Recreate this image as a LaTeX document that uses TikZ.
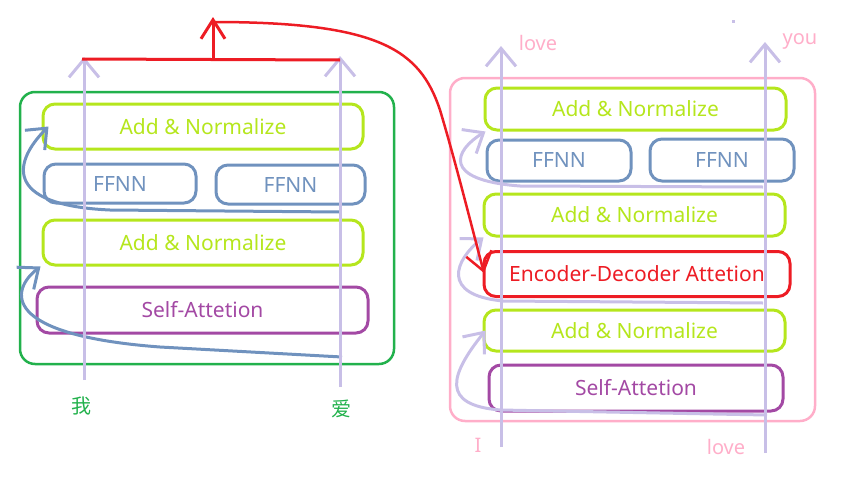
\documentclass[tikz,border=0pt]{standalone}
\usepackage{fontspec}
\setmainfont{Noto Sans}
\newfontfamily\cjk{Noto Sans CJK SC}
\usetikzlibrary{arrows.meta}
\definecolor{encgreen}{HTML}{22B14C}
\definecolor{limeg}{HTML}{B5E61D}
\definecolor{steel}{HTML}{7092BE}
\definecolor{violet}{HTML}{A349A4}
\definecolor{redl}{HTML}{ED1C24}
\definecolor{lav}{HTML}{C8BFE7}
\definecolor{pinkl}{HTML}{FFAEC9}

\begin{document}
\begin{tikzpicture}[x=1pt,y=-1pt,
    frame/.style={draw,rounded corners=15pt,line width=2.5pt,inner sep=0pt},
    layer/.style={draw,rounded corners=12pt,line width=3pt,inner sep=0pt,font=\fontsize{21}{24}\selectfont},
    norm/.style={layer,color=limeg},
    ffnn/.style={layer,color=steel},
    selfatt/.style={layer,color=violet},
    word/.style={font=\fontsize{20}{24}\selectfont,inner sep=0pt},
    flow/.style={draw=lav,line width=3pt,-{Straight Barb[length=18pt,width=30pt]}},
    res/.style={line width=3pt,-{Straight Barb[length=17pt,width=28pt]}}]
    \useasboundingbox (0,0) rectangle (845,479);

    % encoder
    \node[frame,draw=encgreen,minimum width=374pt,minimum height=272pt] (enc) at (207,228) {};
    \node[norm,minimum width=320pt,minimum height=45pt] (lan2) at (203,126.5) {Add \& Normalize};
    \node[ffnn,minimum width=152pt,minimum height=39pt] (lffa) at (120,183.5) {FFNN};
    \node[ffnn,minimum width=149pt,minimum height=39pt] (lffb) at (290.5,184.5) {FFNN};
    \node[norm,minimum width=320pt,minimum height=45pt] (lan1) at (203,242.5) {Add \& Normalize};
    \node[selfatt,minimum width=331pt,minimum height=46pt] (lsa) at (202.5,310) {Self-Attetion};

    % decoder
    \node[frame,draw=pinkl,minimum width=365pt,minimum height=343pt] (dec) at (632.5,249.5) {};
    \node[norm,minimum width=301pt,minimum height=42pt] (ran2) at (635.5,109) {Add \& Normalize};
    \node[ffnn,minimum width=144pt,minimum height=41pt] (rffa) at (559,160.5) {FFNN};
    \node[ffnn,minimum width=144pt,minimum height=42pt] (rffb) at (722,160) {FFNN};
    \node[norm,minimum width=301pt,minimum height=42pt] (ran1) at (634.5,215) {Add \& Normalize};
    \node[layer,color=redl,minimum width=306pt,minimum height=45pt] (eda) at (637,274) {Encoder-Decoder Attetion};
    \node[norm,minimum width=301pt,minimum height=41pt] (ran0) at (634.5,330.5) {Add \& Normalize};
    \node[selfatt,minimum width=294pt,minimum height=46pt] (rsa) at (636,388) {Self-Attetion};

    % words
    \node[word,encgreen] (wo) at (81,406) {\cjk 我};
    \node[word,encgreen] (ai) at (341,409) {\cjk 爱};
    \node[word,pinkl] (inI) at (478,445) {I};
    \node[word,pinkl] (inlove) at (726,447) {love};
    \node[word,pinkl] (outlove) at (538,43) {love};
    \node[word,pinkl] (outyou) at (800,41) {you};
    \fill[lav] (731.5,19.5) rectangle (734.5,22.5);

    \coordinate (lba) at (84,380);  \coordinate (lta) at (84,57);
    \coordinate (lbb) at (340,387); \coordinate (ltb) at (340,56);
    \coordinate (rba) at (501,447); \coordinate (rta) at (501,46);
    \coordinate (rbb) at (765,453); \coordinate (rtb) at (765,42);

    % residual paths
    \draw[res,steel] (340,212) -- (110,210) .. controls (0,205) and (15,160) .. ([xshift=7pt]lan2.west);
    \draw[res,steel] (342,357) -- (160,347) .. controls (0,335) and (10,290) .. ([xshift=-1pt]lan1.south west);
    \draw[res,lav] (763,187) -- (520,186) .. controls (440,180) and (455,150) .. ([xshift=2pt]ran2.south west);
    \draw[res,lav] (763,303) -- (503,301) .. controls (440,295) and (455,260) .. ([xshift=1pt]ran1.south west);
    \draw[res,lav] (767,415) -- (500,410) .. controls (440,405) and (450,375) .. ([xshift=3pt]ran0.west);

    % vertical flows
    \draw[flow] (lba) -- (lta);
    \draw[flow] (lbb) -- (ltb);
    \draw[flow] (rba) -- (rta);
    \draw[flow] (rbb) -- (rtb);

    % encoder output to decoder
    \coordinate (jl) at (82,59);
    \coordinate (jr) at (340,60);
    \coordinate (jm) at (213,60);
    \coordinate (jt) at (213,17);
    \draw[redl,line width=3pt] (jl) -- (jr);
    \draw[redl,res,-{Straight Barb[length=19pt,width=24pt]}] (jm) -- (jt);
    \draw[redl,line width=2.5pt,-{Straight Barb[length=18pt,width=26pt]}] (213,22) .. controls (380,22) and (420,50) .. (440,110)
        .. controls (455,160) and (470,220) .. ([xshift=-153pt,yshift=1pt]eda.center);
\end{tikzpicture}
\end{document}
